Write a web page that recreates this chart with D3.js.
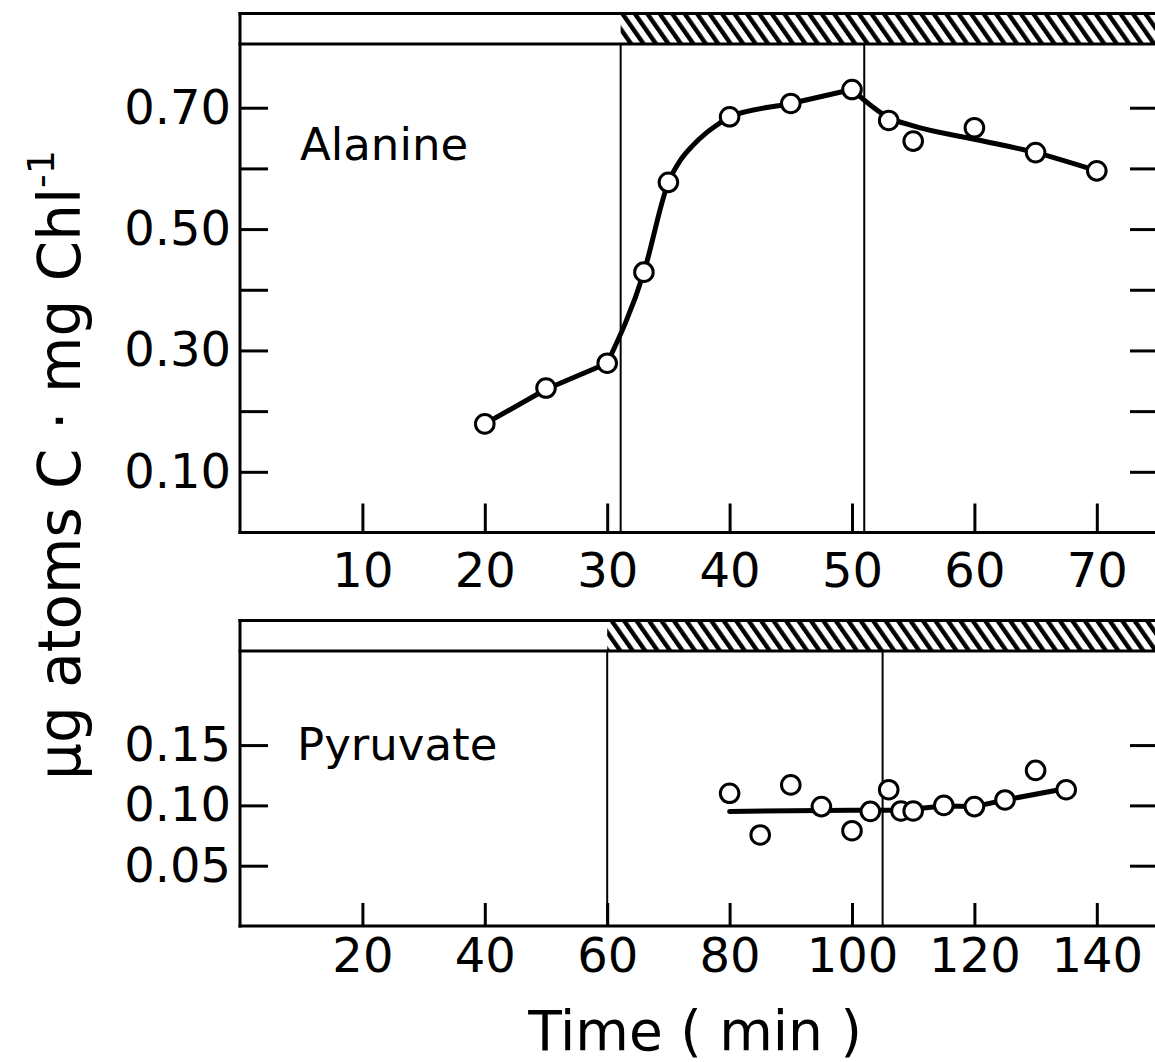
<!DOCTYPE html>
<html><head><meta charset="utf-8">
<script src="https://cdn.jsdelivr.net/npm/d3@7"></script>
<style>body{margin:0;background:#fff}</style>
</head><body>
<svg id="c" width="1155" height="1062"></svg>
<script>
// ---------- data ----------
const alanineTime  = [20, 25, 30, 33, 35, 40, 45, 50, 53, 55, 60, 65, 70];
const alanineValue = [0.179, 0.238, 0.279, 0.429, 0.577, 0.685, 0.707, 0.730, 0.679, 0.645, 0.667, 0.626, 0.596];
// fitted curve (three pieces: dark, light rise, dark fall)
const alanineFit1Time  = [20, 25, 30];
const alanineFit1Value = [0.179, 0.236, 0.279];
const alanineFit2Time  = [30, 33, 35, 36, 37, 38, 39, 40, 45, 50];
const alanineFit2Value = [0.279, 0.429, 0.577, 0.614, 0.638, 0.657, 0.672, 0.685, 0.707, 0.730];
const alanineFit3Time  = [50, 53, 55, 60, 65, 70];
const alanineFit3Value = [0.730, 0.684, 0.670, 0.648, 0.626, 0.596];
const alanineEvents = [31.1, 51];

const pyruvateTime  = [80, 85, 90, 95, 100, 103, 106, 108, 110, 115, 120, 125, 130, 135];
const pyruvateValue = [0.110, 0.0755, 0.117, 0.099, 0.079, 0.095, 0.113, 0.0954, 0.0954, 0.100, 0.099, 0.1045, 0.129, 0.113];
const pyruvateFitTime  = [80, 100, 103, 108, 115, 120, 125, 135];
const pyruvateFitValue = [0.095, 0.096, 0.096, 0.096, 0.0995, 0.099, 0.1045, 0.114];
const pyruvateEvents = [60, 105];

const topXTicks = [10, 20, 30, 40, 50, 60, 70];
const topYTicks = [0.1, 0.2, 0.3, 0.4, 0.5, 0.6, 0.7];
const topYLabels = ["0.10", "", "0.30", "", "0.50", "", "0.70"];
const botXTicks = [20, 40, 60, 80, 100, 120, 140];
const botYTicks = [0.05, 0.10, 0.15];
const botYLabels = ["0.05", "0.10", "0.15"];

// ---------- drawing ----------
const svg = d3.select("#c");
const FONT = "DejaVu Sans";

const defs = svg.append("defs");
const pat = defs.append("pattern").attr("id", "hatch")
  .attr("patternUnits", "userSpaceOnUse").attr("width", 10.2).attr("height", 20)
  .attr("patternTransform", "rotate(-35)");
pat.append("rect").attr("width", 10.2).attr("height", 20).attr("fill", "#fff");
pat.append("rect").attr("width", 4.4).attr("height", 20).attr("fill", "#000");

function panel(o) {
  const g = svg.append("g");
  const x = o.x, y = o.y;
  const [xl, xr] = x.range();
  const [yb, yt] = y.range();
  const hTop = yt - 30.5;

  // header bar
  g.append("rect").attr("x", xl).attr("y", hTop).attr("width", xr - xl).attr("height", yt - hTop).attr("fill", "#fff");
  g.append("rect").attr("x", x(o.events[0])).attr("y", hTop).attr("width", xr - x(o.events[0])).attr("height", yt - hTop).attr("fill", "url(#hatch)");

  // event lines
  o.events.forEach(e => {
    g.append("line").attr("x1", x(e)).attr("x2", x(e)).attr("y1", yt).attr("y2", yb)
      .attr("stroke", "#000").attr("stroke-width", 2);
  });

  // frame
  const frame = [[xl, hTop, xr, hTop], [xl, yt, xr, yt], [xl, hTop, xl, yb], [xl, yb, xr, yb], [xr, hTop, xr, yb]];
  frame.forEach(f => g.append("line").attr("x1", f[0]).attr("y1", f[1]).attr("x2", f[2]).attr("y2", f[3])
    .attr("stroke", "#000").attr("stroke-width", 3).attr("stroke-linecap", "square"));

  // axes
  const styleAxis = sel => {
    sel.attr("font-family", FONT).attr("font-size", 48).attr("color", "#000");
    sel.select(".domain").remove();
    sel.selectAll(".tick line").attr("stroke-width", 3);
  };
  g.append("g").attr("transform", `translate(0,${yb})`)
    .call(d3.axisBottom(x).tickValues(o.xTicks).tickSize(-o.xTickLen).tickPadding(o.xPad).tickFormat(d3.format("d")))
    .call(styleAxis);
  g.append("g").attr("transform", `translate(${xl},0)`)
    .call(d3.axisLeft(y).tickValues(o.yTicks).tickSize(-28).tickPadding(9).tickFormat((d, i) => o.yLabels[i]))
    .call(styleAxis);
  g.append("g").attr("transform", `translate(${xr},0)`)
    .call(d3.axisRight(y).tickValues(o.yTicks).tickSize(-28).tickFormat(""))
    .call(styleAxis);

  // fitted line
  o.fits.forEach(f => {
    const pts = f.t.map((t, i) => [t, f.v[i]]);
    g.append("path").datum(pts)
      .attr("d", d3.line().x(d => x(d[0])).y(d => y(d[1])).curve(f.curve))
      .attr("fill", "none").attr("stroke", "#000").attr("stroke-width", 5)
      .attr("stroke-linejoin", "round").attr("stroke-linecap", "round");
  });

  // points
  g.selectAll("circle.pt").data(o.t.map((t, i) => [t, o.v[i]])).join("circle")
    .attr("class", "pt").attr("cx", d => x(d[0])).attr("cy", d => y(d[1])).attr("r", 9.3)
    .attr("fill", "#fff").attr("stroke", "#000").attr("stroke-width", 3);

  g.append("text").attr("x", o.labelX).attr("y", o.labelY).attr("font-family", FONT)
    .attr("font-size", 45).text(o.label);
}

panel({
  x: d3.scaleLinear().domain([0, 75]).range([240, 1158]),
  y: d3.scaleLinear().domain([0, 0.805]).range([532.5, 44]),
  events: alanineEvents,
  xTicks: topXTicks, xTickLen: 29, xPad: 20,
  yTicks: topYTicks, yLabels: topYLabels,
  t: alanineTime, v: alanineValue,
  fits: [
    {t: alanineFit1Time, v: alanineFit1Value, curve: d3.curveLinear},
    {t: alanineFit2Time, v: alanineFit2Value, curve: d3.curveMonotoneX},
    {t: alanineFit3Time, v: alanineFit3Value, curve: d3.curveMonotoneX}
  ],
  label: "Alanine", labelX: 300, labelY: 160
});

panel({
  x: d3.scaleLinear().domain([0, 150]).range([240, 1158]),
  y: d3.scaleLinear().domain([0, 0.228]).range([926, 651]),
  events: pyruvateEvents,
  xTicks: botXTicks, xTickLen: 23, xPad: 12,
  yTicks: botYTicks, yLabels: botYLabels,
  t: pyruvateTime, v: pyruvateValue,
  fits: [{t: pyruvateFitTime, v: pyruvateFitValue, curve: d3.curveLinear}],
  label: "Pyruvate", labelX: 297, labelY: 760
});

// y-axis title
const yt = svg.append("text").attr("transform", "translate(80,465) rotate(-90)")
  .attr("text-anchor", "middle").attr("font-family", FONT).attr("font-size", 58);
yt.append("tspan").text("μg atoms C · mg Chl");
yt.append("tspan").attr("font-size", 38).attr("dy", -26).text("-1");

// x-axis title
svg.append("text").attr("x", 695).attr("y", 1050).attr("text-anchor", "middle")
  .attr("font-family", FONT).attr("font-size", 55).text("Time ( min )");
</script>
</body></html>
